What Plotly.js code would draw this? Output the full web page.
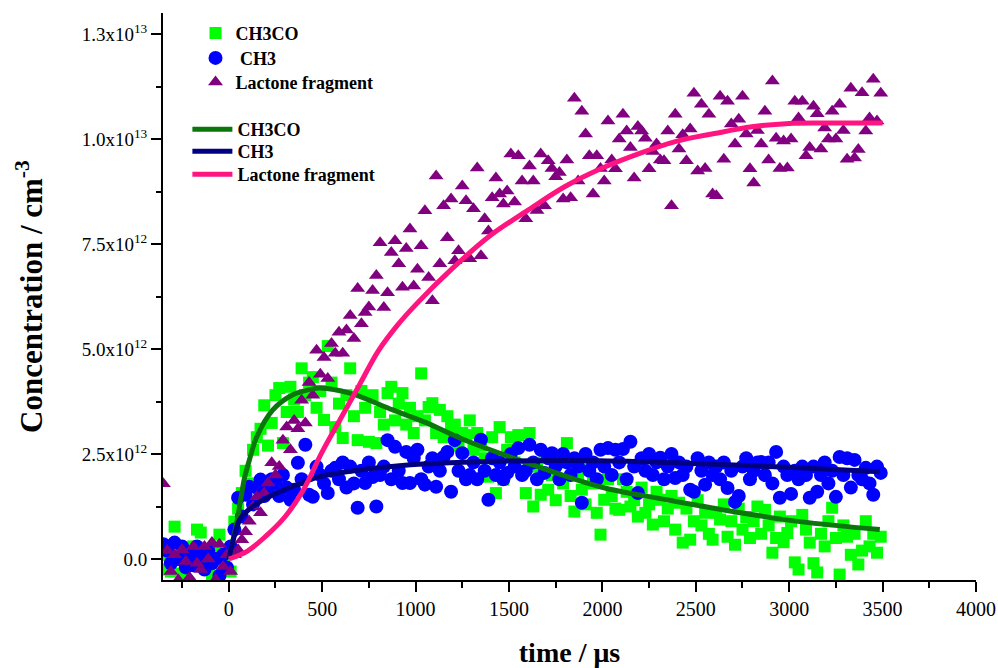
<!DOCTYPE html>
<html>
<head>
<meta charset="utf-8">
<script src="https://cdn.plot.ly/plotly-3.0.1.min.js"></script>
<style>html,body{margin:0;padding:0;background:#fff;}#chart{width:998px;height:668px;}</style>
</head>
<body>
<div id="chart"></div>
<script>
// time axis (µs)
const time = [
-350,-330,-310,-290,-270,-250,-230,-210,-190,-170,
-150,-130,-110,-90,-70,-50,-30,-10,10,30,
50,70,90,110,130,150,170,190,210,230,
250,270,290,310,330,350,370,390,410,430,
450,470,490,510,530,550,570,590,610,630,
650,670,690,710,730,750,770,790,810,830,
850,870,890,910,930,950,970,990,1010,1030,
1050,1070,1090,1110,1130,1150,1170,1190,1210,1230,
1250,1270,1290,1310,1330,1350,1370,1390,1410,1430,
1450,1470,1490,1510,1530,1550,1570,1590,1610,1630,
1650,1670,1690,1710,1730,1750,1770,1790,1810,1830,
1850,1870,1890,1910,1930,1950,1970,1990,2010,2030,
2050,2070,2090,2110,2130,2150,2170,2190,2210,2230,
2250,2270,2290,2310,2330,2350,2370,2390,2410,2430,
2450,2470,2490,2510,2530,2550,2570,2590,2610,2630,
2650,2670,2690,2710,2730,2750,2770,2790,2810,2830,
2850,2870,2890,2910,2930,2950,2970,2990,3010,3030,
3050,3070,3090,3110,3130,3150,3170,3190,3210,3230,
3250,3270,3290,3310,3330,3350,3370,3390,3410,3430,
3450,3470,3490];

// concentrations in units of 1e12 cm^-3
const ch3coData = [
-0.25,0.1,-0.3,0.77,0.05,-0.35,0.2,-0.1,0.3,0.70,
0.63,-0.2,0.15,-0.4,0.25,0.58,0.0,0.2,-0.3,0.89,
1.2,1.57,2.1,1.8,2.6,2.9,3.1,3.66,2.7,3.24,
3.9,4.07,2.76,3.5,4.1,3.8,3.5,4.54,3.9,4.2,
4.33,3.6,4.0,3.31,5.07,4.2,3.14,3.7,2.88,3.9,
4.54,3.4,2.83,4.0,3.6,2.79,3.9,2.76,3.5,3.2,
3.95,4.1,3.3,3.7,3.95,3.2,3.6,3.0,3.4,4.42,
3.3,3.62,3.71,3.0,3.55,2.9,3.4,3.14,3.2,2.7,
3.0,2.95,3.3,2.6,3.0,2.7,2.4,1.96,2.9,1.57,
3.14,1.89,2.6,2.9,2.3,2.95,2.1,1.57,3.0,1.25,
2.2,1.53,2.5,1.65,2.0,1.4,2.3,1.8,2.76,1.5,
1.13,2.0,1.65,1.3,2.2,1.8,1.1,0.58,1.41,1.9,
1.5,1.2,1.17,1.9,1.6,1.25,1.4,1.01,1.7,1.1,
1.3,0.82,1.6,1.41,0.9,1.2,1.5,0.7,1.34,0.39,
1.2,0.46,0.9,1.4,0.8,1.1,0.6,0.46,1.10,0.94,
1.3,0.53,0.9,0.34,1.2,0.7,1.0,0.5,0.9,1.25,
0.6,1.17,0.8,0.15,0.5,1.01,0.4,0.62,0.9,-0.08,
-0.25,1.05,0.7,0.39,-0.1,-0.32,0.6,0.3,0.9,1.22,
0.5,-0.37,0.8,0.53,0.1,0.6,-0.13,0.2,0.9,0.3,
0.6,0.15,0.53];

const ch3Data = [
0.35,0.2,-0.1,0.39,0.0,0.3,-0.2,0.1,-0.15,0.3,
0.05,-0.25,0.2,-0.1,0.0,-0.4,0.1,-0.2,0.3,0.7,
1.46,1.01,1.53,1.72,1.3,1.7,1.89,1.5,1.65,1.9,
1.8,1.5,2.0,1.7,1.41,1.65,2.29,1.9,2.72,1.53,
1.48,2.2,2.0,1.8,1.57,2.1,2.17,1.9,2.3,1.7,
2.2,1.8,1.22,2.1,1.81,2.3,1.95,1.25,2.0,2.2,
2.83,1.9,2.67,2.1,1.81,2.55,1.81,2.4,2.6,1.9,
1.77,2.2,2.4,1.72,2.1,2.43,2.55,1.6,2.83,2.1,
2.52,1.9,2.0,2.3,1.9,2.84,2.1,1.41,2.4,2.0,
2.3,1.9,2.05,2.5,2.2,2.64,2.0,2.1,2.72,2.3,
1.9,2.6,2.05,2.4,2.52,2.2,1.9,2.5,2.3,2.0,
2.4,2.2,1.34,2.5,2.1,2.3,1.9,2.6,2.2,2.64,
2.0,2.6,2.3,2.62,1.9,2.79,2.2,1.57,2.4,2.1,
2.5,2.0,2.3,2.41,1.9,2.2,2.5,1.93,2.3,2.0,
2.2,1.65,1.6,2.4,2.1,1.77,2.3,2.0,2.2,1.9,
2.3,1.69,2.1,1.36,1.5,2.2,2.4,1.9,2.1,2.3,
2.31,2.0,2.3,1.8,2.55,1.46,2.2,2.0,1.55,2.1,
1.9,2.2,2.0,1.46,2.2,1.6,2.0,2.3,1.8,2.1,
1.48,2.43,2.0,2.4,1.7,2.36,2.0,1.9,2.17,1.8,
1.53,2.2,2.05];

const lactoneData = [
1.79,0.2,-0.3,0.1,-0.5,0.22,-0.06,-0.44,0.3,-0.1,
-0.25,0.3,0.0,0.39,-0.49,0.35,-0.18,0.1,-0.3,0.1,
0.22,0.46,0.65,0.9,1.25,1.48,1.1,1.57,1.81,2.29,
2.0,2.2,2.83,3.14,2.6,3.3,3.1,3.78,3.24,4.2,
3.9,4.97,4.4,4.8,4.3,5.13,4.9,5.4,4.9,5.45,
5.8,5.25,6.44,5.6,5.87,6.0,6.39,6.75,7.53,5.99,
6.34,7.3,7.58,7.03,6.47,7.39,7.86,6.5,6.9,7.46,
8.29,6.7,6.15,9.12,7.03,8.41,7.65,8.57,7.1,7.34,
8.88,8.53,7.15,8.34,9.31,7.22,8.1,7.81,8.6,9.07,
8.69,8.45,8.76,9.64,8.5,9.6,9.0,8.1,9.36,9.0,
8.3,9.64,8.41,9.48,9.3,9.1,9.2,8.57,9.5,8.6,
10.97,9.0,10.66,10.12,9.6,8.69,9.6,9.3,9.0,10.43,
9.5,9.29,10.0,10.59,10.19,9.8,9.07,10.3,10.19,10.02,
9.29,9.7,9.88,9.5,9.48,10.19,8.41,10.59,9.76,10.1,
9.48,10.24,11.09,9.24,10.83,9.3,10.59,8.69,8.65,11.02,
9.52,10.9,10.36,9.88,10.47,11.02,10.12,9.29,8.95,10.2,
9.88,10.66,9.5,11.38,10.02,9.3,9.95,9.31,10.0,10.9,
10.5,10.9,9.6,9.8,10.78,10.6,9.76,10.26,10.0,10.66,
10.0,10.83,10.2,9.52,11.21,9.55,9.75,11.1,10.19,10.5,
11.42,10.43,11.09];

// fitted curves
const ch3coFitTime = [0,20,43,65,86,110,150,236,343,450,487,648,878,1060,1237,1504,1627,1986,2345,2698,3057,3485];
const ch3coFit     = [0,0.4,0.87,1.45,1.96,2.35,2.91,3.55,3.91,4.05,4.07,3.95,3.55,3.24,2.88,2.43,2.24,1.72,1.41,1.13,0.89,0.70];
const ch3FitTime = [0,30,59,96,166,273,380,487,701,915,1183,1611,1986,2521,3057,3485];
const ch3Fit     = [0,0.55,0.94,1.13,1.36,1.60,1.79,1.96,2.12,2.22,2.29,2.34,2.34,2.27,2.17,2.08];
const lactoneFitTime = [0,100,200,300,400,500,600,700,800,900,1000,1200,1400,1600,1800,2000,2200,2400,2600,2800,3000,3200,3500];
const lactoneFit     = [0,0.19,0.55,1.0,1.65,2.55,3.35,4.15,4.95,5.55,6.05,6.93,7.7,8.3,8.87,9.31,9.66,9.95,10.13,10.29,10.37,10.38,10.38];

const yTickVals = [0, 2.5, 5, 7.5, 10, 12.5];
const yTickText = ['0.0','2.5x10<sup>12</sup>','5.0x10<sup>12</sup>','7.5x10<sup>12</sup>','1.0x10<sup>13</sup>','1.3x10<sup>13</sup>'];

const serif = 'Liberation Serif, Times New Roman, serif';

const traces = [
  {x: time, y: ch3coData, type: 'scatter', mode: 'markers', name: 'CH3CO', legend: 'legend',
   marker: {symbol: 'square', size: 12, color: '#00ff00'}, cliponaxis: true},
  {x: time, y: ch3Data, type: 'scatter', mode: 'markers', name: '\u00a0CH3', legend: 'legend2',
   marker: {symbol: 'circle', size: 14, color: '#0000ff'}, cliponaxis: true},
  {x: time, y: lactoneData, type: 'scatter', mode: 'markers', name: 'Lactone fragment', legend: 'legend3',
   marker: {symbol: 'triangle-up', size: 13, color: '#800080'}, cliponaxis: true},
  {x: ch3coFitTime, y: ch3coFit, type: 'scatter', mode: 'lines', name: 'CH3CO', legend: 'legend4',
   line: {color: '#0b760b', width: 5, shape: 'spline', smoothing: 1}},
  {x: ch3FitTime, y: ch3Fit, type: 'scatter', mode: 'lines', name: 'CH3', legend: 'legend5',
   line: {color: '#000080', width: 5, shape: 'spline', smoothing: 1}},
  {x: lactoneFitTime, y: lactoneFit, type: 'scatter', mode: 'lines', name: 'Lactone fragment', legend: 'legend6',
   line: {color: '#ff1480', width: 5, shape: 'spline', smoothing: 1}}
];

const legendFont = {family: serif, size: 18, color: '#000', weight: 'bold'};
function legendAt(x, y, extra) {
  return Object.assign({x: x, y: y, xanchor: 'left', yanchor: 'top', bgcolor: 'rgba(0,0,0,0)',
    borderwidth: 0, font: legendFont}, extra || {});
}

const layout = {
  width: 998, height: 668,
  paper_bgcolor: '#ffffff', plot_bgcolor: '#ffffff',
  margin: {l: 163, r: 22, t: 13, b: 88},
  font: {family: serif, color: '#000'},
  showlegend: true,
  xaxis: {
    range: [-352, 4000], tick0: 0, dtick: 500,
    ticks: 'outside', ticklen: 10, tickwidth: 2, tickcolor: '#000',
    showline: true, linewidth: 2, linecolor: '#000',
    showgrid: false, zeroline: false,
    tickfont: {family: serif, size: 20, color: '#000'},
    minor: {dtick: 250, tick0: 0, ticks: 'outside', ticklen: 6, tickwidth: 2, tickcolor: '#000', showgrid: false},
    title: {text: 'time / μs', font: {family: serif, size: 28, color: '#000', weight: 'bold'}, standoff: 23}
  },
  yaxis: {
    range: [-0.5, 13.0], tickmode: 'array', tickvals: yTickVals, ticktext: yTickText,
    ticks: 'outside', ticklen: 10, tickwidth: 2, tickcolor: '#000',
    showline: true, linewidth: 2, linecolor: '#000',
    showgrid: false, zeroline: false,
    tickfont: {family: serif, size: 19, color: '#000'},
    minor: {tickmode: 'linear', tick0: 0, dtick: 1.25, ticks: 'outside', ticklen: 5, tickwidth: 2, tickcolor: '#000', showgrid: false},
    title: {text: 'Concentration / cm<sup>-3</sup>', font: {family: serif, size: 31, color: '#000', weight: 'bold'}, standoff: 30}
  },
  legend:  legendAt(0.04, 0.9970),
  legend2: legendAt(0.04, 0.9529),
  legend3: legendAt(0.04, 0.9106),
  legend4: legendAt(0.03, 0.8271),
  legend5: legendAt(0.03, 0.7883),
  legend6: legendAt(0.03, 0.7478)
};
layout.legend4.itemwidth = 40;
layout.legend5.itemwidth = 40;
layout.legend6.itemwidth = 40;

Plotly.newPlot('chart', traces, layout, {staticPlot: true, displayModeBar: false});
</script>
</body>
</html>
